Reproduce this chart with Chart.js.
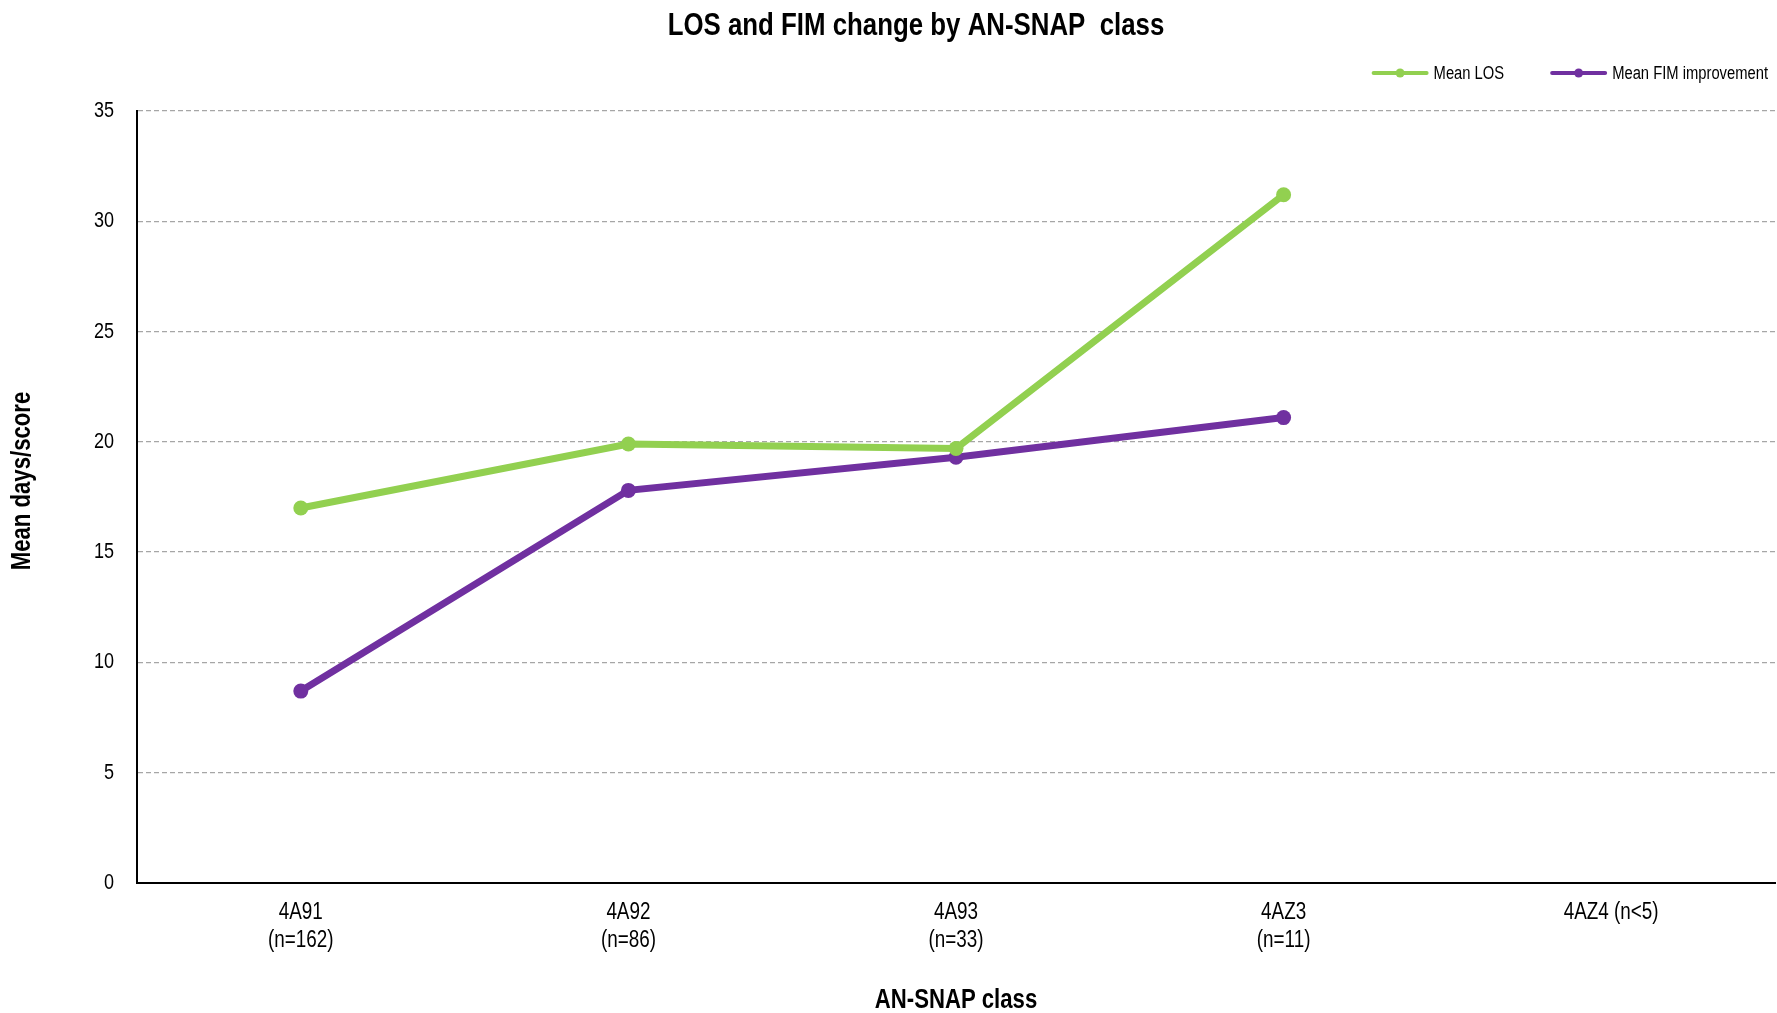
<!DOCTYPE html>
<html>
<head>
<meta charset="utf-8">
<script src="https://cdn.jsdelivr.net/npm/chart.js@4.4.1/dist/chart.umd.min.js"></script>
<style>
  html, body { margin: 0; padding: 0; background: #fff; overflow: hidden; }
  #c { display: block; width: 1777px; height: 1013px; }
</style>
</head>
<body>
<canvas id="c" width="1777" height="1013"></canvas>
<script>
const categories = [
  ['4A91', '(n=162)'],
  ['4A92', '(n=86)'],
  ['4A93', '(n=33)'],
  ['4AZ3', '(n=11)'],
  '4AZ4 (n<5)'
];
const meanLOS = [17.0, 19.9, 19.7, 31.2, null];
const meanFIM = [8.7, 17.8, 19.3, 21.1, null];
const seriesNames = ['Mean LOS', 'Mean FIM improvement'];
const yTicks = [0, 5, 10, 15, 20, 25, 30, 35];
const chartTitle = 'LOS and FIM change by AN-SNAP  class';
const yAxisTitle = 'Mean days/score';
const xAxisTitle = 'AN-SNAP class';

const FONT = "'Liberation Sans', Arial, sans-serif";
const NARROW_X = 0.82; // reference uses a narrow (condensed) face

const canvas = document.getElementById('c');
const ctx0 = canvas.getContext('2d');
// Render all text horizontally condensed, like Arial Narrow.
const origFillText = ctx0.fillText.bind(ctx0);
ctx0.fillText = function (text, x, y, maxWidth) {
  this.save();
  this.translate(x, y);
  this.scale(NARROW_X, 1);
  if (maxWidth !== undefined && maxWidth !== null) origFillText(text, 0, 0, maxWidth / NARROW_X);
  else origFillText(text, 0, 0);
  this.restore();
};

const titles = {
  id: 'titles',
  afterDraw(chart) {
    const ctx = chart.ctx;
    ctx.save();
    ctx.fillStyle = '#000';
    ctx.textAlign = 'center';
    ctx.textBaseline = 'middle';
    ctx.font = "bold 31.5px " + FONT;
    ctx.fillText(chartTitle, 916, 26);
    ctx.translate(23, 481);
    ctx.rotate(-Math.PI / 2);
    ctx.font = "bold 27px " + FONT;
    ctx.fillText(yAxisTitle, 0, 0);
    ctx.restore();
  }
};

const lineLegend = {
  id: 'lineLegend',
  afterDraw(chart) {
    const ctx = chart.ctx;
    ctx.save();
    ctx.font = "18px " + FONT;
    ctx.textBaseline = 'middle';
    ctx.textAlign = 'left';
    const y = 73;
    const lineLen = 53, gapLT = 7, gapItems = 48;
    const items = chart.data.datasets.map(ds => ({
      label: ds.label, color: ds.borderColor, w: ctx.measureText(ds.label).width * NARROW_X
    }));
    let total = 0;
    items.forEach((it, i) => { total += lineLen + gapLT + it.w + (i ? gapItems : 0); });
    let x = 1768 - total;
    items.forEach((it, i) => {
      if (i) x += gapItems;
      ctx.strokeStyle = it.color;
      ctx.lineWidth = 4;
      ctx.lineCap = 'round';
      ctx.beginPath(); ctx.moveTo(x, y); ctx.lineTo(x + lineLen, y); ctx.stroke();
      ctx.fillStyle = it.color;
      ctx.beginPath(); ctx.arc(x + lineLen / 2, y, 4.5, 0, Math.PI * 2); ctx.fill();
      ctx.fillStyle = '#000';
      ctx.fillText(it.label, x + lineLen + gapLT, y + 1);
      x += lineLen + gapLT + it.w;
    });
    ctx.restore();
  }
};

function zeroPad(scale) {
  scale.paddingLeft = 0; scale.paddingRight = 0;
  scale.paddingTop = 0; scale.paddingBottom = 0;
}

new Chart(canvas, {
  type: 'line',
  data: {
    labels: categories,
    datasets: [
      {
        label: seriesNames[0], data: meanLOS,
        borderColor: '#92D050', backgroundColor: '#92D050',
        borderWidth: 7, pointRadius: 7.5, pointHoverRadius: 7.5,
        pointBorderWidth: 0, tension: 0, spanGaps: false
      },
      {
        label: seriesNames[1], data: meanFIM,
        borderColor: '#7030A0', backgroundColor: '#7030A0',
        borderWidth: 7, pointRadius: 7.5, pointHoverRadius: 7.5,
        pointBorderWidth: 0, tension: 0, spanGaps: false
      }
    ]
  },
  options: {
    responsive: false,
    maintainAspectRatio: false,
    devicePixelRatio: 1,
    animation: false,
    layout: { autoPadding: false, padding: { top: 111, right: 2, bottom: 0, left: 0 } },
    plugins: {
      legend: { display: false },
      tooltip: { enabled: false },
      title: { display: false }
    },
    scales: {
      x: {
        offset: true,
        grid: { display: false, drawTicks: false },
        border: { display: true, color: '#000', width: 2 },
        ticks: {
          color: '#000', padding: 16, maxRotation: 0, autoSkip: false,
          font: { family: FONT, size: 23, lineHeight: '28px' }
        },
        title: {
          display: true, text: xAxisTitle, color: '#000',
          font: { family: FONT, size: 27, weight: 'bold', lineHeight: 0.9 },
          padding: 0
        },
        afterFit(scale) { scale.height = 130; zeroPad(scale); }
      },
      y: {
        min: 0, max: 35,
        afterBuildTicks(scale) { scale.ticks = yTicks.map(v => ({ value: v })); },
        grid: { color: '#A6A6A6', lineWidth: 1.3, drawTicks: false },
        border: { display: true, color: '#000', width: 2, dash: [5, 3] },
        ticks: {
          color: '#000', padding: 23,
          font: { family: FONT, size: 22 }
        },
        title: { display: false },
        afterFit(scale) { scale.width = 137; zeroPad(scale); }
      }
    }
  },
  plugins: [titles, lineLegend]
});
</script>
</body>
</html>
